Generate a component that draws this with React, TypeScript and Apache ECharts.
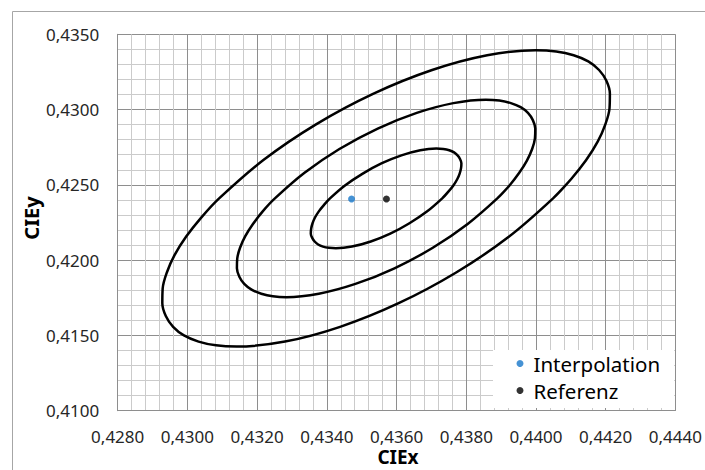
import React, { useEffect, useRef } from "react";
import * as echarts from "echarts";

// Axis ranges and tick steps
const xRange = [0.428, 0.444];
const xStep = 0.002;
const yRange = [0.41, 0.435];
const yStep = 0.005;

// Single points
const interpolationPoint = [[0.43471, 0.42406]];
const referenzPoint = [[0.43571, 0.42406]];

// Ellipse outlines ([CIEx, CIEy]), going round each ellipse
const outerEllipse = [
  [0.44049, 0.4241], [0.44101, 0.42539], [0.44144, 0.42665], [0.44177, 0.42787],
  [0.44199, 0.42902], [0.44211, 0.43009], [0.44212, 0.43106], [0.44202, 0.43191],
  [0.44181, 0.43263], [0.4415, 0.4332], [0.44108, 0.43361], [0.44058, 0.43386],
  [0.43999, 0.43394], [0.4386, 0.43361], [0.43702, 0.43263], [0.43534, 0.43106],
  [0.43369, 0.42902], [0.43218, 0.42665], [0.43091, 0.4241], [0.43039, 0.42281],
  [0.42996, 0.42155], [0.42963, 0.42033], [0.42941, 0.41918], [0.42929, 0.41811],
  [0.42928, 0.41714], [0.42938, 0.41629], [0.42959, 0.41557], [0.4299, 0.415],
  [0.43032, 0.41459], [0.43082, 0.41434], [0.43141, 0.41426], [0.4328, 0.41459],
  [0.43438, 0.41557], [0.43606, 0.41714], [0.43771, 0.41918], [0.43922, 0.42155],
];

const middleEllipse = [
  [0.43889, 0.4241], [0.43924, 0.42496], [0.43952, 0.4258], [0.43974, 0.42661],
  [0.43989, 0.42738], [0.43997, 0.42809], [0.43998, 0.42874], [0.43991, 0.4293],
  [0.43977, 0.42978], [0.43956, 0.43016], [0.43928, 0.43043], [0.43895, 0.4306],
  [0.43856, 0.43066], [0.43763, 0.43043], [0.43658, 0.42978], [0.43546, 0.42874],
  [0.43436, 0.42738], [0.43336, 0.4258], [0.43251, 0.4241], [0.43216, 0.42324],
  [0.43188, 0.4224], [0.43166, 0.42159], [0.43151, 0.42082], [0.43143, 0.42011],
  [0.43142, 0.41946], [0.43149, 0.4189], [0.43163, 0.41842], [0.43184, 0.41804],
  [0.43212, 0.41777], [0.43245, 0.4176], [0.43284, 0.41754], [0.43377, 0.41777],
  [0.43482, 0.41842], [0.43594, 0.41946], [0.43704, 0.42082], [0.43804, 0.4224],
];

const innerEllipse = [
  [0.43731, 0.4241], [0.43748, 0.42453], [0.43763, 0.42496], [0.43774, 0.42537],
  [0.43781, 0.42575], [0.43785, 0.42611], [0.43786, 0.42644], [0.43782, 0.42672],
  [0.43775, 0.42696], [0.43765, 0.42716], [0.43751, 0.4273], [0.43734, 0.42738],
  [0.43714, 0.42741], [0.43668, 0.4273], [0.43614, 0.42696], [0.43558, 0.42644],
  [0.43503, 0.42575], [0.43452, 0.42496], [0.43409, 0.4241], [0.43392, 0.42367],
  [0.43377, 0.42324], [0.43366, 0.42283], [0.43359, 0.42245], [0.43355, 0.42209],
  [0.43354, 0.42176], [0.43358, 0.42148], [0.43365, 0.42124], [0.43375, 0.42104],
  [0.43389, 0.4209], [0.43406, 0.42082], [0.43426, 0.42079], [0.43472, 0.4209],
  [0.43526, 0.42124], [0.43582, 0.42176], [0.43637, 0.42245], [0.43688, 0.42324],
];

const fmt = (v: number) => v.toFixed(4).replace(".", ",");

// close a loop smoothly: run past the start by two points
const closed = (pts: number[][]) => [...pts, pts[0], pts[1]];

export default function App() {
  const ref = useRef<HTMLDivElement>(null);

  useEffect(() => {
    if (!ref.current) return;
    const chart = echarts.init(ref.current, null, { renderer: "svg" });
    const majorColor = "#8e8e8e";
    const minorColor = "#cbcbcb";
    const labelStyle = {
      fontFamily: "Noto Sans",
      fontSize: 17,
      color: "#262626",
    };
    const ellipseSeries = (name: string, data: number[][]) => ({
      name,
      type: "line",
      data: closed(data),
      smooth: 0.34,
      showSymbol: false,
      symbol: "none",
      lineStyle: { color: "#000", width: 2.5 },
      z: 3,
      silent: true,
    });
    chart.setOption({
      animation: false,
      backgroundColor: "#fff",
      grid: { left: 117.7, right: 28.3, top: 34.3, bottom: 59.3 },
      xAxis: {
        type: "value",
        min: xRange[0],
        max: xRange[1],
        interval: xStep,
        axisLine: { show: true, lineStyle: { color: majorColor, width: 1 } },
        axisTick: { show: false },
        axisLabel: { ...labelStyle, margin: 18, formatter: fmt, lineHeight: 15 },
        splitLine: { show: true, lineStyle: { color: majorColor, width: 1 } },
        minorTick: { show: false, splitNumber: 5 },
        minorSplitLine: { show: true, lineStyle: { color: minorColor, width: 1 } },
      },
      yAxis: {
        type: "value",
        min: yRange[0],
        max: yRange[1],
        interval: yStep,
        axisLine: { show: true, lineStyle: { color: majorColor, width: 1 } },
        axisTick: { show: false },
        axisLabel: { ...labelStyle, margin: 18.5, formatter: fmt },
        splitLine: { show: true, lineStyle: { color: majorColor, width: 1 } },
        minorTick: { show: false, splitNumber: 5 },
        minorSplitLine: { show: true, lineStyle: { color: minorColor, width: 1 } },
      },
      legend: {
        data: ["Interpolation", "Referenz"],
        orient: "vertical",
        left: 493,
        top: 350,
        backgroundColor: "#fff",
        padding: [0, 14, 4, 23.5],
        itemGap: 0,
        itemWidth: 17,
        itemHeight: 7,
        icon: "circle",
        textStyle: {
          fontFamily: "Noto Sans",
          fontSize: 20.5,
          color: "#000",
          lineHeight: 27,
        },
        selectedMode: false,
        z: 10,
      },
      graphic: [
        {
          type: "rect",
          shape: { x: 12.5, y: 11.5, width: 900, height: 700 },
          style: { fill: "none", stroke: "#a6a6a6", lineWidth: 1 },
          silent: true,
        },
        {
          type: "text",
          x: 398,
          y: 457,
          style: {
            text: "CIEx",
            fontFamily: "Noto Sans",
            fontWeight: "bold",
            fontSize: 19,
            lineHeight: 18,
            fill: "#000",
            align: "center",
            verticalAlign: "middle",
          },
        },
        {
          type: "text",
          x: 31,
          y: 218,
          rotation: Math.PI / 2,
          style: {
            text: "CIEy",
            fontFamily: "Noto Sans",
            fontWeight: "bold",
            fontSize: 20,
            fill: "#000",
            align: "center",
            verticalAlign: "middle",
          },
        },
      ],
      series: [
        ellipseSeries("outer", outerEllipse),
        ellipseSeries("middle", middleEllipse),
        ellipseSeries("inner", innerEllipse),
        {
          name: "Interpolation",
          type: "scatter",
          data: interpolationPoint,
          symbolSize: 7,
          itemStyle: { color: "#1777c9" },
          z: 5,
        },
        {
          name: "Referenz",
          type: "scatter",
          data: referenzPoint,
          symbolSize: 7,
          itemStyle: { color: "#000" },
          z: 5,
        },
      ],
    });
    return () => chart.dispose();
  }, []);

  return (
    <div
      ref={ref}
      style={{ position: "absolute", left: 0, top: 0, width: 705, height: 470 }}
    />
  );
}
